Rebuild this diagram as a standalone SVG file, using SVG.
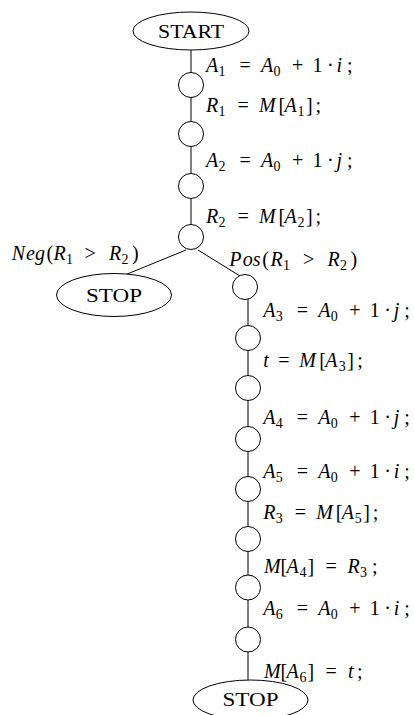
<svg xmlns="http://www.w3.org/2000/svg" width="414" height="715" viewBox="0 0 414 715">
<style>
.edge{stroke:#000;stroke-width:1;fill:none}
.node{fill:#fff;stroke:#000;stroke-width:1}
.lbl{font-family:"Liberation Serif",serif;font-size:18px;fill:#000;text-anchor:middle}
.m{font-family:"Liberation Serif",serif;font-size:20px;fill:#000}
.i{font-style:italic}
.s{font-size:14px}
</style>
<rect width="414" height="715" fill="#fff"/>
<g id="connectors">
<line class="edge" x1="191" y1="50" x2="191" y2="72.5"/>
<line class="edge" x1="191" y1="97.5" x2="191" y2="121.5"/>
<line class="edge" x1="191" y1="146.5" x2="191" y2="173.5"/>
<line class="edge" x1="191" y1="198.5" x2="191" y2="224.5"/>
<line class="edge" x1="186" y1="250" x2="126" y2="274.5"/>
<line class="edge" x1="198" y1="250" x2="240" y2="276"/>
<line class="edge" x1="248" y1="299" x2="248" y2="325.5"/>
<line class="edge" x1="248" y1="350.5" x2="248" y2="375.5"/>
<line class="edge" x1="248" y1="400.5" x2="248" y2="426.5"/>
<line class="edge" x1="248" y1="451.5" x2="248" y2="476.5"/>
<line class="edge" x1="248" y1="501.5" x2="248" y2="526.5"/>
<line class="edge" x1="248" y1="551.5" x2="248" y2="575"/>
<line class="edge" x1="248" y1="600" x2="248" y2="627"/>
<line class="edge" x1="248" y1="652" x2="248" y2="680"/>
</g>
<g id="start"><ellipse class="node" cx="191" cy="31" rx="58" ry="19"/><text class="lbl" x="191" y="37.5" textLength="66" lengthAdjust="spacingAndGlyphs">START</text></g>
<g id="n1"><circle class="node" cx="191" cy="85" r="12.5"/></g>
<g id="n2"><circle class="node" cx="191" cy="134" r="12.5"/></g>
<g id="n3"><circle class="node" cx="191" cy="186" r="12.5"/></g>
<g id="n4"><circle class="node" cx="191" cy="237" r="12.5"/></g>
<g id="stop1"><ellipse class="node" cx="114" cy="295" rx="57.5" ry="21.5"/><text class="lbl" x="114" y="302" textLength="56" lengthAdjust="spacingAndGlyphs">STOP</text></g>
<g id="n5"><circle class="node" cx="245" cy="287" r="12.5"/></g>
<g id="n6"><circle class="node" cx="248" cy="338" r="12.5"/></g>
<g id="n7"><circle class="node" cx="248" cy="388" r="12.5"/></g>
<g id="n8"><circle class="node" cx="248" cy="439" r="12.5"/></g>
<g id="n9"><circle class="node" cx="248" cy="489" r="12.5"/></g>
<g id="n10"><circle class="node" cx="248" cy="539" r="12.5"/></g>
<g id="n11"><circle class="node" cx="248" cy="587.5" r="12.5"/></g>
<g id="n12"><circle class="node" cx="248" cy="639.5" r="12.5"/></g>
<g id="stop2"><ellipse class="node" cx="250.5" cy="700" rx="57.5" ry="20"/><text class="lbl" x="250.5" y="706" textLength="56" lengthAdjust="spacingAndGlyphs">STOP</text></g>
<g id="edge-labels" class="m">
<text><tspan class="i" x="206" y="72">A</tspan><tspan class="s" x="218.5" y="76">1</tspan><tspan x="239.5" y="72">=</tspan><tspan class="i" x="261" y="72">A</tspan><tspan class="s" x="273.5" y="76">0</tspan><tspan x="292" y="72">+</tspan><tspan x="312.5" y="72">1</tspan><tspan x="327" y="72">·</tspan><tspan class="i" x="336.5" y="72">i</tspan><tspan x="347" y="72">;</tspan></text>
<text><tspan class="i" x="206" y="112">R</tspan><tspan class="s" x="218.5" y="116">1</tspan><tspan x="237.5" y="112">=</tspan><tspan class="i" x="259" y="112">M</tspan><tspan x="278.5" y="112">[</tspan><tspan class="i" x="284.5" y="112">A</tspan><tspan class="s" x="297.5" y="116">1</tspan><tspan x="306" y="112">]</tspan><tspan x="315.5" y="112">;</tspan></text>
<text><tspan class="i" x="206" y="167">A</tspan><tspan class="s" x="218.5" y="171">2</tspan><tspan x="239.5" y="167">=</tspan><tspan class="i" x="261" y="167">A</tspan><tspan class="s" x="273.5" y="171">0</tspan><tspan x="292" y="167">+</tspan><tspan x="312.5" y="167">1</tspan><tspan x="327" y="167">·</tspan><tspan class="i" x="336.5" y="167">j</tspan><tspan x="347" y="167">;</tspan></text>
<text><tspan class="i" x="206" y="223">R</tspan><tspan class="s" x="218.5" y="227">2</tspan><tspan x="237.5" y="223">=</tspan><tspan class="i" x="259" y="223">M</tspan><tspan x="278.5" y="223">[</tspan><tspan class="i" x="284.5" y="223">A</tspan><tspan class="s" x="297.5" y="227">2</tspan><tspan x="306" y="223">]</tspan><tspan x="315.5" y="223">;</tspan></text>
<text><tspan class="i" x="11.7" y="260">N</tspan><tspan class="i" x="26" y="260">e</tspan><tspan class="i" x="35" y="260">g</tspan><tspan x="46.5" y="260">(</tspan><tspan class="i" x="53.5" y="260">R</tspan><tspan class="s" x="66" y="264">1</tspan><tspan x="84.5" y="260">&gt;</tspan><tspan class="i" x="109" y="260">R</tspan><tspan class="s" x="121.5" y="264">2</tspan><tspan x="132" y="260">)</tspan></text>
<text><tspan class="i" x="229.3" y="266">P</tspan><tspan class="i" x="242.8" y="266">o</tspan><tspan class="i" x="252.8" y="266">s</tspan><tspan x="262.3" y="266">(</tspan><tspan class="i" x="270.5" y="266">R</tspan><tspan class="s" x="283" y="270">1</tspan><tspan x="303" y="266">&gt;</tspan><tspan class="i" x="327.5" y="266">R</tspan><tspan class="s" x="340" y="270">2</tspan><tspan x="350.5" y="266">)</tspan></text>
<text><tspan class="i" x="263.3" y="317">A</tspan><tspan class="s" x="275.8" y="321">3</tspan><tspan x="296.8" y="317">=</tspan><tspan class="i" x="318.3" y="317">A</tspan><tspan class="s" x="330.8" y="321">0</tspan><tspan x="349.3" y="317">+</tspan><tspan x="369.8" y="317">1</tspan><tspan x="384.3" y="317">·</tspan><tspan class="i" x="393.8" y="317">j</tspan><tspan x="404.3" y="317">;</tspan></text>
<text><tspan class="i" x="263.3" y="367">t</tspan><tspan x="278.3" y="367">=</tspan><tspan class="i" x="299.3" y="367">M</tspan><tspan x="319.3" y="367">[</tspan><tspan class="i" x="325.3" y="367">A</tspan><tspan class="s" x="338.8" y="371">3</tspan><tspan x="347.3" y="367">]</tspan><tspan x="357.3" y="367">;</tspan></text>
<text><tspan class="i" x="263.3" y="424">A</tspan><tspan class="s" x="275.8" y="428">4</tspan><tspan x="296.8" y="424">=</tspan><tspan class="i" x="318.3" y="424">A</tspan><tspan class="s" x="330.8" y="428">0</tspan><tspan x="349.3" y="424">+</tspan><tspan x="369.8" y="424">1</tspan><tspan x="384.3" y="424">·</tspan><tspan class="i" x="393.8" y="424">j</tspan><tspan x="404.3" y="424">;</tspan></text>
<text><tspan class="i" x="263.3" y="478">A</tspan><tspan class="s" x="275.8" y="482">5</tspan><tspan x="296.8" y="478">=</tspan><tspan class="i" x="318.3" y="478">A</tspan><tspan class="s" x="330.8" y="482">0</tspan><tspan x="349.3" y="478">+</tspan><tspan x="369.8" y="478">1</tspan><tspan x="384.3" y="478">·</tspan><tspan class="i" x="393.8" y="478">i</tspan><tspan x="404.3" y="478">;</tspan></text>
<text><tspan class="i" x="263.3" y="519">R</tspan><tspan class="s" x="275.8" y="523">3</tspan><tspan x="294.8" y="519">=</tspan><tspan class="i" x="316.3" y="519">M</tspan><tspan x="335.8" y="519">[</tspan><tspan class="i" x="341.8" y="519">A</tspan><tspan class="s" x="354.8" y="523">5</tspan><tspan x="363.3" y="519">]</tspan><tspan x="372.8" y="519">;</tspan></text>
<text><tspan class="i" x="264" y="573">M</tspan><tspan x="280.5" y="573">[</tspan><tspan class="i" x="286.5" y="573">A</tspan><tspan class="s" x="299.5" y="577">4</tspan><tspan x="307.5" y="573">]</tspan><tspan x="325.5" y="573">=</tspan><tspan class="i" x="347.5" y="573">R</tspan><tspan class="s" x="360" y="577">3</tspan><tspan x="372" y="573">;</tspan></text>
<text><tspan class="i" x="263.3" y="615">A</tspan><tspan class="s" x="275.8" y="619">6</tspan><tspan x="296.8" y="615">=</tspan><tspan class="i" x="318.3" y="615">A</tspan><tspan class="s" x="330.8" y="619">0</tspan><tspan x="349.3" y="615">+</tspan><tspan x="369.8" y="615">1</tspan><tspan x="384.3" y="615">·</tspan><tspan class="i" x="393.8" y="615">i</tspan><tspan x="404.3" y="615">;</tspan></text>
<text><tspan class="i" x="264" y="678">M</tspan><tspan x="280.5" y="678">[</tspan><tspan class="i" x="286.5" y="678">A</tspan><tspan class="s" x="299.5" y="682">6</tspan><tspan x="307.5" y="678">]</tspan><tspan x="325.5" y="678">=</tspan><tspan class="i" x="348" y="678">t</tspan><tspan x="357" y="678">;</tspan></text>
</g>
</svg>
